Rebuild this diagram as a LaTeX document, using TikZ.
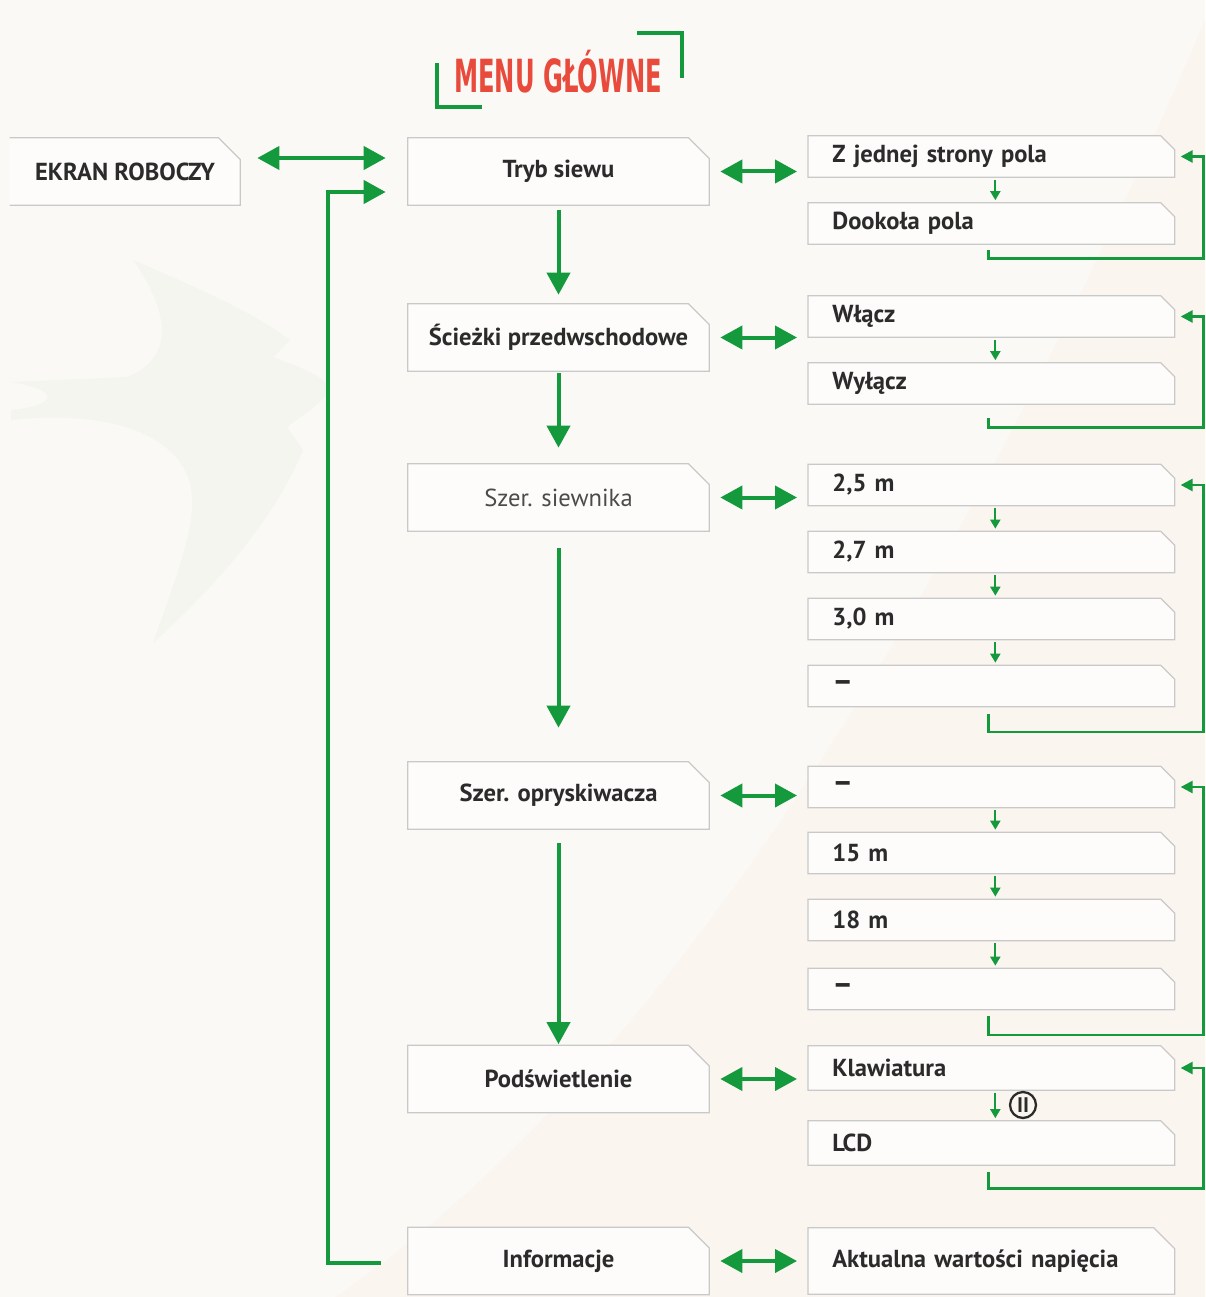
\documentclass[tikz,border=0pt]{standalone}
\usepackage{fontspec}
\setmainfont{PT Sans}
\newfontfamily\titlefont{DejaVu Sans}
\usepackage{graphicx}
\usetikzlibrary{arrows.meta,backgrounds}

\definecolor{menugreen}{HTML}{14993C}
\definecolor{menured}{HTML}{E84A3C}
\definecolor{boxgray}{HTML}{C9C9C9}
\definecolor{boxfill}{HTML}{FDFCFA}
\definecolor{txtgray}{HTML}{2B2B2B}
\definecolor{bgcream}{HTML}{FAF9F5}
\definecolor{bgpeach}{HTML}{FBF5F0}
\definecolor{birdtint}{HTML}{F4F5EF}

\newcommand{\bardash}{{\fontsize{18}{18}\selectfont\bfseries –}}

\tikzset{
	mainbox/.style={minimum width=6.02cm, minimum height=1.34cm, inner sep=0pt,
		font=\fontsize{14}{16}\selectfont\bfseries, text=txtgray},
	subbox/.style={anchor=west, text width=6.36cm, inner xsep=0.48cm, inner ysep=0pt,
		minimum height=0.82cm, align=left, font=\fontsize{14}{16}\selectfont\bfseries, text=txtgray},
	outline/.style={draw=boxgray, fill=boxfill, line width=0.7pt},
	bigarrow/.style={menugreen, line width=0.08cm, -{Triangle[length=0.44cm,width=0.46cm]}},
	dblarrow/.style={bigarrow, {Triangle[length=0.44cm,width=0.46cm]}-{Triangle[length=0.44cm,width=0.46cm]}},
	smallarrow/.style={menugreen, line width=0.04cm, -{Triangle[length=0.18cm,width=0.2cm]}},
	loopline/.style={menugreen, line width=0.05cm, -{Triangle[length=0.24cm,width=0.24cm]}},
	bracket/.style={menugreen, line width=0.08cm},
}

\begin{document}
\begin{tikzpicture}[x=0.02cm, y=-0.02cm]
	\useasboundingbox (0,0) rectangle (1205,1297);
	
	% title
	\node[font=\titlefont\fontsize{26}{28}\selectfont\bfseries, text=menured] (title) at (558,72) {\scalebox{0.53}[1]{MENU GŁÓWNE}};
	\draw[bracket] (437,63) |- (482,107);
	\draw[bracket] (637,33) -| (682,78);
	
	% main menu
	\node[mainbox, minimum width=4.6cm] (ekran) at (125,171.5) {EKRAN ROBOCZY};
	\node[mainbox] (tryb) at (558.5,171.5) {Tryb siewu};
	\node[mainbox] (sciezki) at (558.5,337.5) {Ścieżki przedwschodowe};
	\node[mainbox, font=\fontsize{14}{16}\selectfont, text=txtgray!85] (siewnik) at (558.5,497.5) {Szer. siewnika};
	\node[mainbox] (opryskiwacz) at (558.5,795.5) {Szer. opryskiwacza};
	\node[mainbox] (podsw) at (558.5,1079) {Podświetlenie};
	\node[mainbox] (info) at (558.5,1261) {Informacje};
	
	% sub menus
	\node[subbox] (zjedn) at (808,156.5) {Z jednej strony pola};
	\node[subbox] (dookola) at (808,223.5) {Dookoła pola};
	
	\node[subbox] (wlacz) at (808,316.5) {Włącz};
	\node[subbox] (wylacz) at (808,383.5) {Wyłącz};
	
	\node[subbox] (s25) at (808,485) {2,5 m};
	\node[subbox] (s27) at (808,552) {2,7 m};
	\node[subbox] (s30) at (808,619) {3,0 m};
	\node[subbox] (sdash) at (808,686) {\bardash};
	
	\node[subbox] (odash) at (808,787) {\bardash};
	\node[subbox] (o15) at (808,853) {15 m};
	\node[subbox] (o18) at (808,920) {18 m};
	\node[subbox] (odashb) at (808,989) {\bardash};
	
	\node[subbox, minimum height=0.88cm] (klaw) at (808,1068) {Klawiatura};
	\node[subbox, minimum height=0.88cm] (lcd) at (808,1143) {LCD};
	\node[circle, draw=txtgray, line width=1.3pt, minimum size=0.52cm, inner sep=0pt,
		font=\fontsize{12}{12}\selectfont\bfseries, text=txtgray] (pauza) at (1023,1105) {II};
	
	\node[subbox, minimum height=1.32cm] (aktual) at (808,1261) {Aktualna wartości napięcia};
	
	% box outlines and background
	\begin{scope}[on background layer]
		\fill[bgcream] (0,0) rectangle (1205,1297);
		\fill[bgpeach] (1205,20) .. controls (1000,500) and (700,1050) .. (335,1297) -- (1205,1297) -- cycle;
		\fill[birdtint] (133,260) .. controls (190,285) and (250,310) .. (290,340)
			-- (273,357) .. controls (300,368) and (325,375) .. (330,390)
			.. controls (315,410) and (295,420) .. (287,427) -- (303,450)
			.. controls (270,530) and (200,600) .. (153,643)
			.. controls (175,580) and (200,520) .. (190,483)
			.. controls (175,430) and (100,410) .. (11,420) -- (11,410)
			.. controls (60,405) and (60,390) .. (11,382)
			.. controls (60,380) and (110,378) .. (127,377)
			.. controls (170,360) and (175,320) .. (133,260) -- cycle;
		\fill[boxfill] (ekran.north west) -- ([shift={(-22,0)}]ekran.north east)
			-- ([shift={(0,22)}]ekran.north east) -- (ekran.south east) -- (ekran.south west) -- cycle;
		\draw[outline, fill=none] (ekran.north west) -- ([shift={(-22,0)}]ekran.north east)
			-- ([shift={(0,22)}]ekran.north east) -- (ekran.south east) -- (ekran.south west);
		\foreach \n in {tryb,sciezki,siewnik,opryskiwacz,podsw,info,aktual}
			\draw[outline] (\n.south west) -- (\n.north west) -- ([shift={(-21,0)}]\n.north east)
				-- ([shift={(0,21)}]\n.north east) -- (\n.south east) -- cycle;
		\foreach \n in {zjedn,dookola,wlacz,wylacz,s25,s27,s30,sdash,odash,o15,o18,odashb,klaw,lcd}
			\draw[outline] (\n.south west) -- (\n.north west) -- ([shift={(-14,0)}]\n.north east)
				-- ([shift={(0,14)}]\n.north east) -- (\n.south east) -- cycle;
	\end{scope}
	
	% connectors
	\draw[dblarrow] ([shift={(17,-13.5)}]ekran.east) -- ([shift={(-22,-13.5)}]tryb.west);
	\draw[bigarrow] ([shift={(-27,2)}]info.west) -| ([shift={(-80,20.5)}]tryb.west) -- ([shift={(-22,20.5)}]tryb.west);
	
	\foreach \m/\s in {tryb/zjedn,sciezki/wlacz,siewnik/s25,opryskiwacz/odash,podsw/klaw,info/aktual}
		\draw[dblarrow, shorten <=0.22cm, shorten >=0.22cm] (\m.east) -- (\m.east -| \s.west);
	
	\foreach \a/\b/\s/\e in {tryb/sciezki/0.1/0.18, sciezki/siewnik/0.04/0.32,
		siewnik/opryskiwacz/0.34/0.68, opryskiwacz/podsw/0.28/0.02}
		\draw[bigarrow, shorten <=\s cm, shorten >=\e cm] (\a.south) -- (\b.north);
	
	\foreach \a/\b in {zjedn/dookola,wlacz/wylacz,s25/s27,s27/s30,s30/sdash,
		odash/o15,o15/o18,o18/odashb,klaw/lcd}
		\draw[smallarrow, shorten <=0.05cm, shorten >=0.05cm] ([shift={(4,0)}]\a.south) -- ([shift={(4,0)}]\b.north);
	
	\foreach \a/\b/\s/\d in {dookola/zjedn/6/8, wylacz/wlacz/14/9, sdash/s25/7/18,
		odashb/odash/6/19, lcd/klaw/7/16}
		\draw[loopline, shorten >=0.12cm] ([shift={(-3,\s)}]\a.south) -- ++(0,\d) -| ([shift={(29,0)}]\b.east) -- (\b.east);
\end{tikzpicture}
\end{document}
